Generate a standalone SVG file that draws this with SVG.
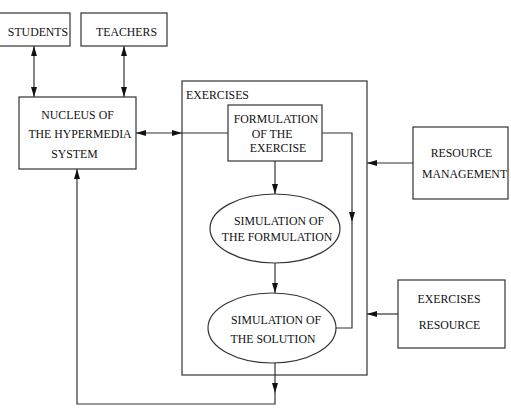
<svg xmlns="http://www.w3.org/2000/svg" width="511" height="413" viewBox="0 0 511 413">
<style>
.b{fill:#fff;stroke:#333;stroke-width:1.2}
.c{fill:none;stroke:#333;stroke-width:1.2}
text{font-size:11.8px;fill:#111;text-anchor:middle}
</style>
<defs>
<marker id="a" viewBox="0 0 10 6" refX="10" refY="3" markerWidth="10" markerHeight="6" markerUnits="userSpaceOnUse" orient="auto-start-reverse">
<path d="M0,0 L10,3 L0,6 z" fill="#111"/>
</marker>
</defs>
<rect width="511" height="413" fill="#fff"/>
<g font-family="'Liberation Serif', 'Times New Roman', serif">
<g id="exercises">
<rect class="b" x="182" y="81" width="185" height="294"/>
<text x="186" y="99" style="text-anchor:start">EXERCISES</text>
</g>
<g id="connectors">
<line class="c" x1="34" y1="46" x2="34" y2="97" marker-start="url(#a)" marker-end="url(#a)"/>
<line class="c" x1="124" y1="46" x2="124" y2="97" marker-start="url(#a)" marker-end="url(#a)"/>
<line class="c" x1="136" y1="133" x2="182" y2="133" marker-start="url(#a)" marker-end="url(#a)"/>
<line class="c" x1="182" y1="133" x2="228" y2="133"/>
<line class="c" x1="275" y1="161" x2="275" y2="194" marker-end="url(#a)"/>
<line class="c" x1="275" y1="263" x2="275" y2="293" marker-end="url(#a)"/>
<path class="c" d="M322,133 H352 V222" marker-end="url(#a)"/>
<path class="c" d="M352,222 V328 H336"/>
<line class="c" x1="275" y1="363" x2="275" y2="393" marker-end="url(#a)"/>
<path class="c" d="M275,393 V404 H77 V169" marker-end="url(#a)"/>
<line class="c" x1="413" y1="163" x2="367" y2="163" marker-end="url(#a)"/>
<line class="c" x1="398" y1="314" x2="367" y2="314" marker-end="url(#a)"/>
</g>
<g id="students">
<rect class="b" x="-1" y="13" width="71" height="33"/>
<text x="38" y="36">STUDENTS</text>
</g>
<g id="teachers">
<rect class="b" x="81" y="13" width="86" height="33"/>
<text x="126.5" y="36">TEACHERS</text>
</g>
<g id="nucleus">
<rect class="b" x="19" y="97" width="117" height="72"/>
<text x="77.5" y="119">NUCLEUS OF</text>
<text x="80" y="138">THE HYPERMEDIA</text>
<text x="74.5" y="158">SYSTEM</text>
</g>
<g id="formulation">
<rect class="b" x="228" y="105" width="94" height="56"/>
<text x="276" y="123">FORMULATION</text>
<text x="272" y="138">OF THE</text>
<text x="278" y="152">EXERCISE</text>
</g>
<g id="sim-formulation">
<ellipse class="b" cx="275" cy="228.5" rx="65" ry="34.5"/>
<text x="279" y="225">SIMULATION OF</text>
<text x="277" y="241">THE FORMULATION</text>
</g>
<g id="sim-solution">
<ellipse class="b" cx="272" cy="328" rx="64" ry="35"/>
<text x="276" y="324">SIMULATION OF</text>
<text x="273" y="343">THE SOLUTION</text>
</g>
<g id="resource-management">
<rect class="b" x="413" y="127" width="95" height="72"/>
<text x="461.5" y="157">RESOURCE</text>
<text x="464.5" y="178">MANAGEMENT</text>
</g>
<g id="exercises-resource">
<rect class="b" x="398" y="280" width="107" height="68"/>
<text x="449" y="303">EXERCISES</text>
<text x="449.5" y="329">RESOURCE</text>
</g>
</g>
</svg>
